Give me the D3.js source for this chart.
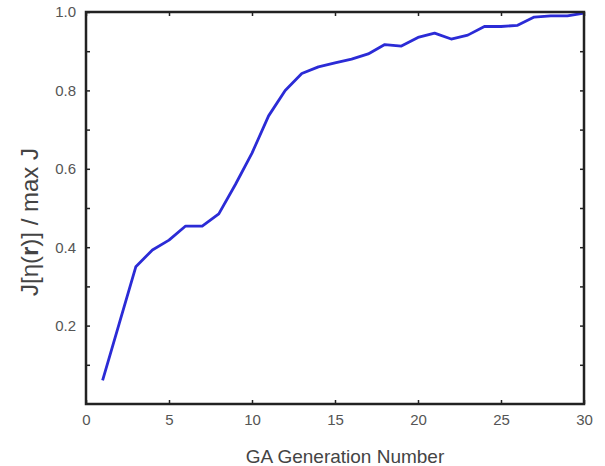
<!DOCTYPE html>
<html>
<head>
<meta charset="utf-8">
<script src="https://cdn.jsdelivr.net/npm/d3@7"></script>
<style>
  body { margin: 0; background: #fff; }
  svg { display: block; font-family: "Liberation Sans", Arial, sans-serif; }
</style>
</head>
<body>
<svg width="605" height="466"></svg>
<script>
// GA convergence data
const generations = [1, 2, 3, 4, 5, 6, 7, 8, 9, 10, 11, 12, 13, 14, 15, 16, 17, 18, 19, 20, 21, 22, 23, 24, 25, 26, 27, 28, 29, 30];
const fitness = [0.06, 0.205, 0.35, 0.393, 0.418, 0.454, 0.454, 0.485, 0.56, 0.64, 0.735, 0.80, 0.843, 0.86, 0.87, 0.88, 0.893, 0.917, 0.913, 0.935, 0.946, 0.931, 0.941, 0.963, 0.963, 0.966, 0.987, 0.99, 0.99, 0.997];
const xTicks = [0, 5, 10, 15, 20, 25, 30];
const yTicks = [0.2, 0.4, 0.6, 0.8, 1.0];
const yMinorTicks = [0.1, 0.2, 0.3, 0.4, 0.5, 0.6, 0.7, 0.8, 0.9];

const svg = d3.select("svg");
const margin = { top: 12, right: 21, bottom: 62, left: 86 };
const width = 605 - margin.left - margin.right;
const height = 466 - margin.top - margin.bottom;
const g = svg.append("g").attr("transform", `translate(${margin.left},${margin.top})`);

const x = d3.scaleLinear().domain([0, 30]).range([0, width]);
const y = d3.scaleLinear().domain([0, 1]).range([height, 0]);

// line
const line = d3.line().x((d, i) => x(generations[i])).y(d => y(d));
g.append("path")
  .datum(fitness)
  .attr("fill", "none")
  .attr("stroke", "#2b2bd6")
  .attr("stroke-width", 2.8)
  .attr("stroke-linejoin", "round")
  .attr("d", line);

// ticks (inward) on all four sides
const tickColor = "#222";
g.append("g").attr("transform", `translate(0,${height})`)
  .call(d3.axisBottom(x).tickValues(xTicks).tickSize(-4).tickPadding(10).tickFormat(d3.format("d")));
g.append("g")
  .call(d3.axisTop(x).tickValues(xTicks).tickSize(-4).tickFormat(""));
g.append("g")
  .call(d3.axisLeft(y).tickValues(yMinorTicks.concat([1.0])).tickSize(-4).tickPadding(10)
    .tickFormat(d => yTicks.some(t => Math.abs(t - d) < 1e-9) ? d3.format(".1f")(d) : ""));
g.append("g").attr("transform", `translate(${width},0)`)
  .call(d3.axisRight(y).tickValues(yMinorTicks).tickSize(-4).tickFormat(""));

g.selectAll(".domain").remove();
g.selectAll(".tick line").attr("stroke", tickColor).attr("stroke-width", 1.5);
g.selectAll(".tick text").attr("fill", "#555").style("font-size", "15px")
  .style("font-family", "'Liberation Sans', Arial, sans-serif");

// frame
g.append("rect")
  .attr("width", width).attr("height", height)
  .attr("fill", "none")
  .attr("stroke", tickColor)
  .attr("stroke-width", 2.5);

// axis labels
svg.append("text")
  .attr("x", margin.left + width / 2 + 10)
  .attr("y", 463)
  .attr("text-anchor", "middle")
  .attr("fill", "#444")
  .style("font-size", "19px")
  .text("GA Generation Number");

const yl = svg.append("text")
  .attr("transform", `translate(38,${margin.top + height / 2 + 14}) rotate(-90)`)
  .attr("text-anchor", "middle")
  .attr("fill", "#444")
  .style("font-size", "24px");
yl.append("tspan").text("J[η(");
yl.append("tspan").attr("font-weight", "bold").text("r");
yl.append("tspan").text(")] / max J");
</script>
</body>
</html>
